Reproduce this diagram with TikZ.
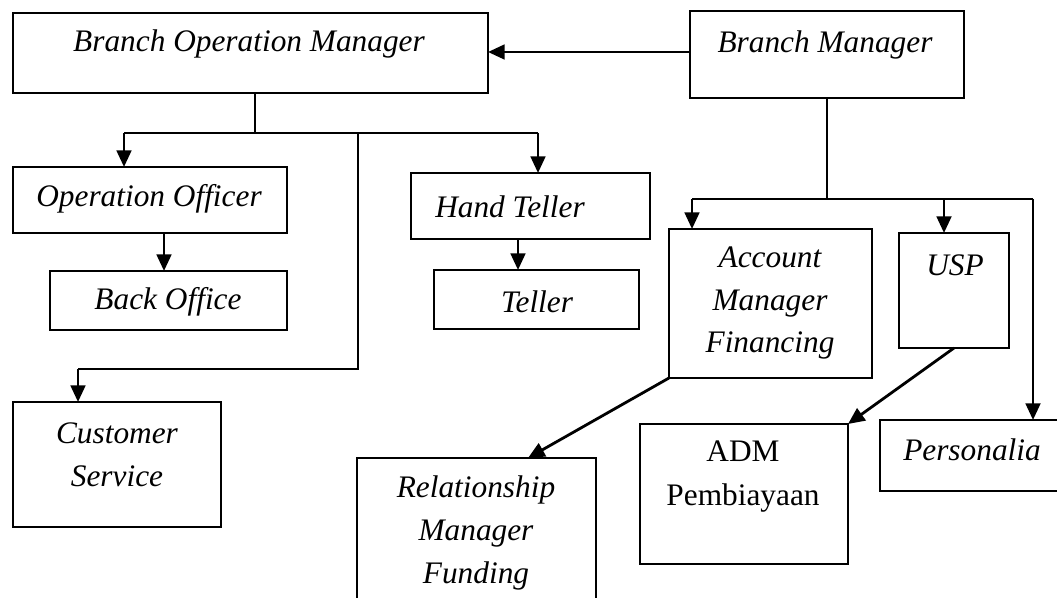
\documentclass[tikz,border=0pt]{standalone}
\usepackage{fontspec}
\setmainfont{Liberation Serif}
\usetikzlibrary{arrows.meta}
\newcommand\mkbox[5]{\node[box,minimum width={(#4-#2)*0.75pt},minimum height={(#5-#3)*0.75pt}] (#1) at (#2,#3) {};}
\begin{document}
\begin{tikzpicture}[x=0.75pt,y=-0.75pt,
 box/.style={draw,line width=1.8pt,inner sep=0pt,outer sep=0pt,anchor=north west},
 lbl/.style={font=\fontsize{23.5}{32}\selectfont\itshape,align=center,inner sep=0pt},
 rlbl/.style={font=\fontsize{23.5}{33}\selectfont,align=center,inner sep=0pt},
 arr/.style={line width=2.1pt,-{Triangle[length=12.5pt,width=11pt]}},
 ln/.style={line width=2.1pt}]
\clip (0,0) rectangle (1057,598);
\fill[white] (0,0) rectangle (1057,598);
% boxes
\mkbox{bom}{13}{13}{488}{93}
\mkbox{bm}{690}{11}{964}{98}
\mkbox{oo}{13}{167}{287}{233}
\mkbox{bo}{50}{271}{287}{330}
\mkbox{ht}{411}{173}{650}{239}
\mkbox{te}{434}{270}{639}{329}
\mkbox{cs}{13}{402}{221}{527}
\mkbox{rmf}{357}{458}{596}{620}
\mkbox{amf}{669}{229}{872}{378}
\mkbox{usp}{899}{233}{1009}{348}
\mkbox{adm}{640}{424}{848}{564}
\mkbox{per}{880}{420}{1070}{491}
% labels
\node[lbl] (bomt) at (249,44) {Branch Operation Manager};
\node[lbl] (bmt) at (825,45) {Branch Manager};
\node[lbl] (oot) at (149,199) {Operation Officer};
\node[lbl] (bot) at (168,302) {Back Office};
\node[lbl] (htt) at (510,207) {Hand Teller};
\node[lbl] (tet) at (537,302) {Teller};
\node[lbl] (cst) at (117,455) {Customer\\Service};
\node[lbl] (rmft) at (476,533) {Relationship\\Manager\\Funding};
\node[lbl] (amft) at (770,303) {Account\\Manager\\Financing};
\node[lbl] (uspt) at (955,265) {USP};
\node[rlbl] (admt) at (743,477) {ADM\\Pembiayaan};
\node[lbl] (pert) at (972,450) {Personalia};
% connector points
\coordinate (ja) at (255,133);
\coordinate (jl) at (124,133);
\coordinate (jr) at (538,133);
\coordinate (jv) at (358,133);
\coordinate (jc) at (358,369);
\coordinate (jcs) at (78,369);
\coordinate (jb) at (827,199);
\coordinate (jbl) at (692,199);
\coordinate (jbu) at (944,199);
\coordinate (jbr) at (1033,199);
\coordinate (ty) at (0,52);
\coordinate (rmfin) at (528,458);
% connectors
\draw[arr] (bm.west |- ty) -- (bom.east |- ty);
\draw[ln] (bom.south -| ja) -- (ja);
\draw[ln] (jl) -- (jr);
\draw[arr] (jl) -- (oo.north -| jl);
\draw[arr] (jr) -- (ht.north -| jr);
\draw[arr] (oo.south -| 164,0) -- (bo.north -| 164,0);
\draw[arr] (ht.south -| 518,0) -- (te.north -| 518,0);
\draw[ln] (jv) -- (jc) -- (jcs);
\draw[arr] (jcs) -- (cs.north -| jcs);
\draw[ln] (bm.south -| jb) -- (jb);
\draw[ln] (jbl) -- (jbr);
\draw[arr] (jbl) -- (amf.north -| jbl);
\draw[arr] (jbu) -- (usp.north -| jbu);
\draw[arr] (jbr) -- (per.north -| jbr);
\draw[arr] (amf.south west) -- (rmfin);
\draw[arr] (usp.south) -- (adm.north east);
\end{tikzpicture}
\end{document}
